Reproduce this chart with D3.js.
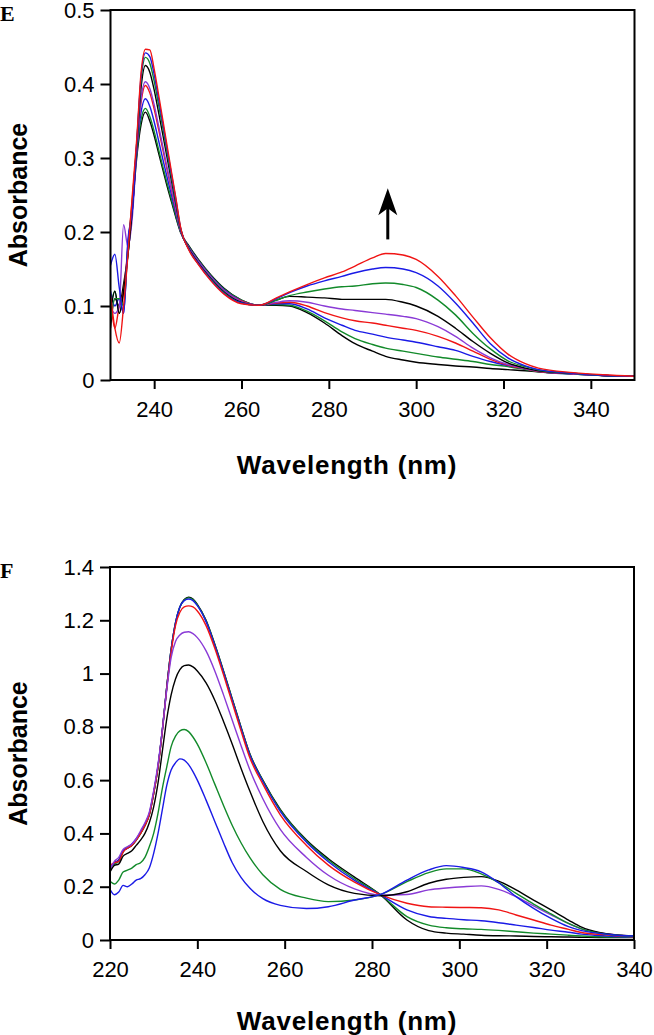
<!DOCTYPE html>
<html>
<head>
<meta charset="utf-8">
<script src="https://cdn.jsdelivr.net/npm/d3@7"></script>
<style>
  body { margin: 0; background: #fff; }
  text { font-family: "Liberation Sans", Arial, sans-serif; }
</style>
</head>
<body>
<div id="chart"></div>
<script>
// ---- Panel E data (wavelength in nm, absorbance) ----
const waveE = [230,231,232,233,234,235,236,237,238,239,240,241,242,243,244,245,246,248,250,253,256,260,264,268,271,275,279,283,286,290,293,297,300,305,309,313,317,321,325,328,336,343,350];

const absE1 = [0.07,0.11,0.10,0.13,0.17,0.23,0.30,0.345,0.362,0.35,0.33,0.307,0.284,0.261,0.24,0.219,0.2,0.181,0.164,0.142,0.124,0.108,0.101,0.101,0.100,0.091,0.077,0.060,0.049,0.039,0.032,0.027,0.024,0.021,0.019,0.0175,0.0155,0.014,0.0125,0.011,0.008,0.006,0.005];
const absE2 = [0.10,0.12,0.09,0.12,0.17,0.235,0.305,0.352,0.367,0.356,0.336,0.312,0.288,0.265,0.243,0.221,0.201,0.18,0.163,0.141,0.123,0.108,0.101,0.102,0.101,0.093,0.080,0.065,0.056,0.048,0.043,0.039,0.036,0.031,0.028,0.025,0.021,0.018,0.014,0.011,0.008,0.006,0.005];
const absE3 = [0.12,0.10,0.11,0.09,0.185,0.23,0.31,0.362,0.38,0.37,0.349,0.324,0.298,0.273,0.249,0.225,0.202,0.179,0.162,0.14,0.122,0.107,0.101,0.103,0.103,0.096,0.084,0.074,0.067,0.062,0.058,0.054,0.051,0.045,0.040,0.032,0.025,0.0195,0.015,0.0115,0.008,0.006,0.005];
const absE4 = [0.11,0.07,0.10,0.12,0.18,0.245,0.315,0.375,0.398,0.388,0.366,0.339,0.311,0.283,0.256,0.229,0.203,0.178,0.161,0.139,0.121,0.107,0.101,0.104,0.105,0.100,0.091,0.084,0.080,0.077,0.074,0.070,0.067,0.059,0.050,0.039,0.028,0.020,0.015,0.0115,0.0085,0.006,0.005];
const absE5 = [0.10,0.09,0.10,0.21,0.18,0.22,0.31,0.38,0.403,0.394,0.372,0.344,0.315,0.286,0.258,0.231,0.203,0.178,0.161,0.139,0.121,0.106,0.101,0.105,0.107,0.105,0.100,0.096,0.094,0.091,0.089,0.086,0.083,0.072,0.059,0.043,0.030,0.021,0.0155,0.012,0.0085,0.006,0.005];
const absE6 = [0.09,0.12,0.09,0.12,0.17,0.23,0.315,0.395,0.425,0.416,0.392,0.362,0.331,0.299,0.268,0.237,0.205,0.177,0.159,0.137,0.119,0.105,0.101,0.108,0.113,0.112,0.111,0.109,0.109,0.109,0.109,0.105,0.100,0.086,0.070,0.052,0.036,0.023,0.016,0.0125,0.009,0.006,0.005];
const absE7 = [0.08,0.11,0.11,0.10,0.18,0.24,0.32,0.405,0.436,0.428,0.404,0.372,0.34,0.306,0.273,0.24,0.206,0.176,0.158,0.136,0.118,0.104,0.101,0.108,0.114,0.119,0.123,0.126,0.127,0.130,0.131,0.129,0.125,0.108,0.088,0.063,0.042,0.026,0.018,0.0135,0.009,0.006,0.005];
const absE8 = [0.155,0.17,0.125,0.09,0.19,0.23,0.32,0.41,0.442,0.437,0.413,0.38,0.346,0.311,0.277,0.243,0.207,0.176,0.158,0.135,0.117,0.104,0.101,0.110,0.118,0.127,0.134,0.140,0.145,0.150,0.152,0.150,0.145,0.127,0.104,0.077,0.049,0.030,0.019,0.014,0.009,0.006,0.005];
const absE9 = [0.115,0.07,0.05,0.10,0.17,0.25,0.325,0.415,0.447,0.446,0.42,0.386,0.351,0.315,0.28,0.245,0.208,0.175,0.157,0.134,0.116,0.103,0.101,0.111,0.119,0.129,0.138,0.146,0.154,0.165,0.171,0.169,0.163,0.140,0.114,0.085,0.057,0.035,0.022,0.016,0.010,0.007,0.005];
const seriesE = [absE1, absE2, absE3, absE4, absE5, absE6, absE7, absE8, absE9];

const xTicksE = [240, 260, 280, 300, 320, 340];
const yTicksE = [0, 0.1, 0.2, 0.3, 0.4, 0.5];

// ---- Panel F data ----
const waveF = [220,221,222,223,224,225,226,227,228,229,230,231,232,233,234,235,236,237,238,239,240,242,244,246,248,250,252,255,259,265,270,276,282,288,293,297,301,305,309,313,317,321,325,328,332,336,340];

const absF1 = [0.27,0.29,0.30,0.335,0.345,0.355,0.375,0.40,0.43,0.47,0.55,0.65,0.79,0.95,1.09,1.19,1.25,1.278,1.287,1.28,1.26,1.2,1.11,1.01,0.905,0.80,0.70,0.60,0.49,0.375,0.305,0.236,0.169,0.075,0.035,0.026,0.022,0.018,0.016,0.015,0.013,0.012,0.011,0.010,0.0095,0.009,0.009];
const absF2 = [0.275,0.285,0.295,0.33,0.35,0.355,0.375,0.40,0.43,0.47,0.55,0.65,0.79,0.95,1.09,1.19,1.25,1.276,1.284,1.278,1.258,1.198,1.108,1.008,0.903,0.798,0.698,0.598,0.487,0.372,0.300,0.23,0.169,0.088,0.056,0.046,0.042,0.04,0.036,0.031,0.026,0.022,0.018,0.015,0.012,0.011,0.01];
const absF3 = [0.27,0.29,0.30,0.335,0.345,0.36,0.38,0.405,0.435,0.475,0.555,0.655,0.79,0.95,1.09,1.19,1.25,1.274,1.28,1.274,1.255,1.195,1.105,1.005,0.90,0.795,0.695,0.595,0.483,0.367,0.294,0.224,0.169,0.113,0.088,0.081,0.076,0.072,0.065,0.056,0.047,0.037,0.029,0.022,0.017,0.013,0.012];
const absF4 = [0.28,0.29,0.295,0.33,0.345,0.355,0.375,0.40,0.43,0.47,0.55,0.65,0.785,0.945,1.08,1.18,1.23,1.25,1.254,1.25,1.235,1.18,1.095,0.995,0.89,0.785,0.685,0.585,0.47,0.355,0.281,0.217,0.169,0.138,0.125,0.123,0.122,0.121,0.113,0.094,0.075,0.056,0.04,0.028,0.021,0.016,0.012];
const absF5 = [0.265,0.295,0.31,0.34,0.35,0.36,0.38,0.41,0.44,0.48,0.56,0.66,0.79,0.94,1.06,1.12,1.145,1.155,1.157,1.15,1.135,1.085,1.01,0.92,0.825,0.73,0.64,0.53,0.415,0.31,0.243,0.192,0.169,0.171,0.188,0.195,0.2,0.203,0.19,0.163,0.128,0.094,0.062,0.042,0.027,0.019,0.014];
const absF6 = [0.255,0.28,0.285,0.315,0.325,0.335,0.355,0.375,0.40,0.44,0.50,0.59,0.71,0.83,0.92,0.98,1.015,1.03,1.032,1.025,1.01,0.965,0.9,0.82,0.735,0.645,0.56,0.445,0.335,0.257,0.207,0.175,0.166,0.181,0.213,0.228,0.235,0.238,0.221,0.188,0.15,0.113,0.075,0.048,0.028,0.019,0.015];
const absF7 = [0.22,0.21,0.225,0.255,0.262,0.27,0.283,0.29,0.31,0.35,0.40,0.476,0.57,0.65,0.726,0.765,0.785,0.79,0.782,0.762,0.735,0.665,0.585,0.505,0.43,0.365,0.31,0.245,0.19,0.157,0.144,0.15,0.171,0.219,0.253,0.267,0.267,0.248,0.215,0.175,0.135,0.098,0.062,0.042,0.026,0.018,0.015];
const absF8 = [0.19,0.17,0.18,0.205,0.20,0.21,0.225,0.23,0.245,0.27,0.325,0.40,0.49,0.58,0.638,0.665,0.68,0.675,0.658,0.632,0.60,0.525,0.445,0.365,0.29,0.235,0.195,0.155,0.13,0.118,0.125,0.15,0.171,0.225,0.263,0.279,0.272,0.256,0.215,0.163,0.119,0.081,0.05,0.035,0.025,0.018,0.015];
const seriesF = [absF1, absF2, absF3, absF4, absF5, absF6, absF7, absF8];

const xTicksF = [220, 240, 260, 280, 300, 320, 340];
const yTicksF = [0, 0.2, 0.4, 0.6, 0.8, 1, 1.2, 1.4];

// trace colours, cycling in the order the spectra were recorded
const traceColors = ["#000000", "#128a2a", "#1a1ae6", "#f01414", "#8a3ad6"];

const svg = d3.select("#chart").append("svg")
   .attr("width", 654)
   .attr("height", 1035);

function drawPanel(p) {
   const x = d3.scaleLinear().domain(p.xDomain).range([p.left, p.right]);
   const y = d3.scaleLinear().domain(p.yDomain).range([p.bottom, p.top]);
   const g = svg.append("g");

   g.append("clipPath").attr("id", "clip" + p.letter)
      .append("rect")
      .attr("x", p.left).attr("y", p.top)
      .attr("width", p.right - p.left).attr("height", p.bottom - p.top);

   const line = d3.line()
      .x((d, i) => x(p.wave[i]))
      .y(d => y(d))
      .curve(d3.curveMonotoneX);

   g.append("g").attr("clip-path", `url(#clip${p.letter})`)
      .selectAll("path")
      .data(p.series)
      .join("path")
      .attr("fill", "none")
      .attr("stroke", (d, i) => traceColors[i % traceColors.length])
      .attr("stroke-width", 1.4)
      .attr("stroke-linejoin", "round")
      .attr("d", line);

   // frame
   g.append("rect")
      .attr("x", p.left).attr("y", p.top)
      .attr("width", p.right - p.left).attr("height", p.bottom - p.top)
      .attr("fill", "none")
      .attr("stroke", "#000")
      .attr("stroke-width", 2);

   const xAxis = g.append("g")
      .attr("transform", `translate(0,${p.bottom})`)
      .call(d3.axisBottom(x).tickValues(p.xTicks).tickSize(9).tickPadding(12).tickFormat(d3.format("d")));
   const yAxis = g.append("g")
      .attr("transform", `translate(${p.left},0)`)
      .call(d3.axisLeft(y).tickValues(p.yTicks).tickSize(10).tickPadding(6).tickFormat(d => String(+d.toFixed(1))));

   [xAxis, yAxis].forEach(a => {
      a.select(".domain").remove();
      a.selectAll(".tick line").attr("stroke", "#000").attr("stroke-width", 2);
      a.selectAll(".tick text")
         .attr("fill", "#000")
         .style("font-family", "'Liberation Sans', Arial, sans-serif")
         .style("font-size", "22px");
   });

   g.append("text")
      .attr("x", p.xTitleX).attr("y", p.xTitleY)
      .attr("text-anchor", "middle")
      .style("font-size", "26px").style("font-weight", "bold")
      .style("letter-spacing", "0.8px")
      .text("Wavelength (nm)");

   g.append("text")
      .attr("transform", `translate(27,${(p.top + p.bottom) / 2}) rotate(-90)`)
      .attr("text-anchor", "middle")
      .style("font-size", "25px").style("font-weight", "bold")
      .text("Absorbance");

   g.append("text")
      .attr("x", 0).attr("y", p.top + 11)
      .style("font-family", "'Liberation Serif', 'Times New Roman', serif")
      .style("font-size", "22px").style("font-weight", "bold")
      .text(p.letter);

   return { x, y, g };
}

const panelE = drawPanel({
   letter: "E", wave: waveE, series: seriesE,
   xDomain: [230, 350], yDomain: [0, 0.5],
   left: 110.5, right: 634.5, top: 10, bottom: 380,
   xTicks: xTicksE, yTicks: yTicksE,
   xTitleX: 347, xTitleY: 474
});

drawPanel({
   letter: "F", wave: waveF, series: seriesF,
   xDomain: [220, 340], yDomain: [0, 1.4],
   left: 110, right: 634, top: 567, bottom: 940,
   xTicks: xTicksF, yTicks: yTicksF,
   xTitleX: 347, xTitleY: 1030
});

// arrow marking the growing band near 294 nm
const arrowNm = 293.5, arrowFrom = 0.19, arrowTo = 0.259;
const ax = panelE.x(arrowNm), ay0 = panelE.y(arrowFrom), ay1 = panelE.y(arrowTo);
panelE.g.append("line")
   .attr("x1", ax).attr("x2", ax)
   .attr("y1", ay0).attr("y2", ay1 + 12)
   .attr("stroke", "#000").attr("stroke-width", 3);
panelE.g.append("path")
   .attr("d", `M${ax},${ay1} L${ax + 9.5},${ay1 + 27} L${ax},${ay1 + 20} L${ax - 9.5},${ay1 + 27} Z`)
   .attr("fill", "#000");
</script>
</body>
</html>
